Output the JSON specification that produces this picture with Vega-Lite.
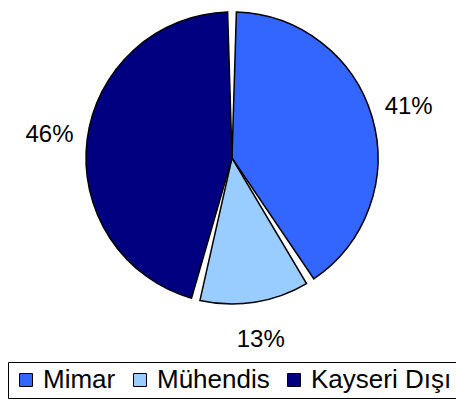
{
  "$schema": "https://vega.github.io/schema/vega-lite/v6.json",
  "width": 448,
  "height": 316,
  "padding": {"left": 8, "top": 0, "right": 0, "bottom": 87},
  "autosize": {"type": "none"},
  "background": "white",
  "config": {"view": {"stroke": null}, "font": "Liberation Sans"},
  "data": {
    "values": [
      {"category": "Mimar", "value": 41, "label": "41%", "order": 1},
      {"category": "Mühendis", "value": 13, "label": "13%", "order": 2},
      {"category": "Kayseri Dışı", "value": 46, "label": "46%", "order": 3}
    ]
  },
  "encoding": {
    "theta": {"field": "value", "type": "quantitative", "stack": true},
    "order": {"field": "order", "type": "quantitative"}
  },
  "layer": [
    {
      "mark": {"type": "arc", "outerRadius": 146, "padAngle": 0.06, "stroke": "black", "strokeWidth": 1.5},
      "encoding": {
        "color": {
          "field": "category",
          "type": "nominal",
          "sort": ["Mimar", "Mühendis", "Kayseri Dışı"],
          "scale": {"domain": ["Mimar", "Mühendis", "Kayseri Dışı"], "range": ["#3366FF", "#99CCFF", "#000080"]},
          "legend": {
            "title": null,
            "orient": "bottom",
            "direction": "horizontal",
            "offset": 46,
            "symbolType": "square",
            "symbolSize": 169,
            "symbolStrokeColor": "black",
            "symbolStrokeWidth": 1,
            "symbolOpacity": 1,
            "labelFontSize": 26,
            "labelColor": "black",
            "labelFont": "Liberation Sans",
            "columnPadding": 11,
            "labelOffset": 4,
            "strokeColor": "black",
            "padding": 5,
            "labelLimit": 300
          }
        }
      }
    },
    {
      "mark": {"type": "text", "radius": 184, "fontSize": 24, "color": "black", "font": "Liberation Sans"},
      "encoding": {"text": {"field": "label", "type": "nominal"}}
    }
  ]
}
